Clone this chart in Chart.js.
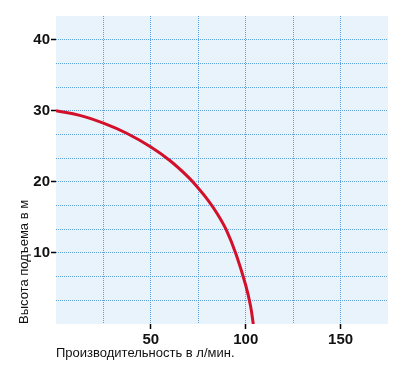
<!DOCTYPE html>
<html>
<head>
<meta charset="utf-8">
<script src="https://cdn.jsdelivr.net/npm/chart.js@4.4.1/dist/chart.umd.min.js"></script>
<style>
  html, body { margin: 0; padding: 0; background: #ffffff; }
  #wrap { width: 404px; height: 376px; }
</style>
</head>
<body>
<div id="wrap"><canvas id="chart" width="404" height="376"></canvas></div>
<script>
// данные кривой насоса
const flowValues = [0, 12.5, 25, 37.5, 50, 60, 70, 75, 80, 85, 90, 95, 100, 102.5, 104];
const headValues = [30, 29.35, 28.25, 26.8, 24.9, 23.0, 20.6, 19.1, 17.45, 15.5, 13.1, 9.75, 5.45, 2.6, 0];

// подписи осей
const xLabels = [50, 100, 150];
const yLabels = [10, 20, 30, 40];
const xGridStep = 25;
const yGridStep = 10 / 3;
const xMax = 175;
const yMax = 130 / 3;

const gridColor = 'rgba(70, 145, 210, 0.85)';
const plotBg = '#e8f3fc';

const points = flowValues.map((q, i) => ({ x: q, y: headValues[i] }));

const near = (a, b) => Math.abs(a - b) < 1e-6;

// фон области графика
const bgPlugin = {
  id: 'plotBg',
  beforeDraw(chart) {
    const { ctx, chartArea } = chart;
    ctx.save();
    ctx.fillStyle = plotBg;
    ctx.fillRect(chartArea.left, chartArea.top, chartArea.right - chartArea.left, chartArea.bottom - chartArea.top);
    ctx.restore();
  }
};

const ctx = document.getElementById('chart').getContext('2d');

new Chart(ctx, {
  type: 'line',
  data: {
    datasets: [{
      data: points,
      borderColor: '#d2102a',
      borderWidth: 3,
      pointRadius: 0,
      fill: false,
      tension: 0.4
    }]
  },
  options: {
    responsive: false,
    animation: false,
    layout: { padding: { top: 16, right: 16, left: 0, bottom: 0 } },
    plugins: {
      legend: { display: false },
      tooltip: { enabled: false }
    },
    scales: {
      x: {
        type: 'linear',
        min: 0,
        max: xMax,
        afterBuildTicks: (scale) => {
          const t = [];
          for (let v = 0; v <= xMax + 1e-6; v += xGridStep) t.push({ value: v });
          scale.ticks = t;
        },
        afterFit: (scale) => { scale.height = 52; },
        border: { display: false, dash: [1, 1] },
        grid: {
          color: (c) => (c.tick && (c.tick.value === 0 || c.tick.value === xMax)) ? 'transparent' : gridColor,
          tickColor: (c) => (c.tick && xLabels.includes(c.tick.value)) ? '#000' : 'transparent',
          tickLength: 5,
          tickWidth: 1.5,
          tickBorderDash: []
        },
        ticks: {
          autoSkip: false,
          maxRotation: 0,
          padding: 2,
          color: '#111',
          font: { family: 'Liberation Sans, Arial, sans-serif', size: 15, weight: 'bold' },
          callback: (v) => xLabels.includes(v) ? String(v) : ''
        },
        title: {
          display: true,
          text: 'Производительность в л/мин.',
          align: 'start',
          color: '#111',
          font: { family: 'Liberation Sans, Arial, sans-serif', size: 13 },
          padding: { top: 0, bottom: 15 }
        }
      },
      y: {
        type: 'linear',
        min: 0,
        max: yMax,
        afterBuildTicks: (scale) => {
          const t = [];
          for (let i = 0; i <= 13; i++) t.push({ value: i * yGridStep });
          scale.ticks = t;
        },
        afterFit: (scale) => { scale.width = 56; },
        border: { display: false, dash: [1, 1] },
        grid: {
          color: (c) => (c.tick && (near(c.tick.value, 0) || near(c.tick.value, yMax))) ? 'transparent' : gridColor,
          tickColor: (c) => (c.tick && yLabels.some(l => near(l, c.tick.value))) ? '#000' : 'transparent',
          tickLength: 5,
          tickWidth: 1.5,
          tickBorderDash: []
        },
        ticks: {
          autoSkip: false,
          padding: 1,
          color: '#111',
          font: { family: 'Liberation Sans, Arial, sans-serif', size: 15, weight: 'bold' },
          callback: (v) => {
            const l = yLabels.find(n => near(n, v));
            return l !== undefined ? String(l) : '';
          }
        },
        title: {
          display: true,
          text: 'Высота подъема в м',
          align: 'start',
          color: '#111',
          font: { family: 'Liberation Sans, Arial, sans-serif', size: 13 },
          padding: { top: 17, bottom: 0 }
        }
      }
    }
  },
  plugins: [bgPlugin]
});
</script>
</body>
</html>
